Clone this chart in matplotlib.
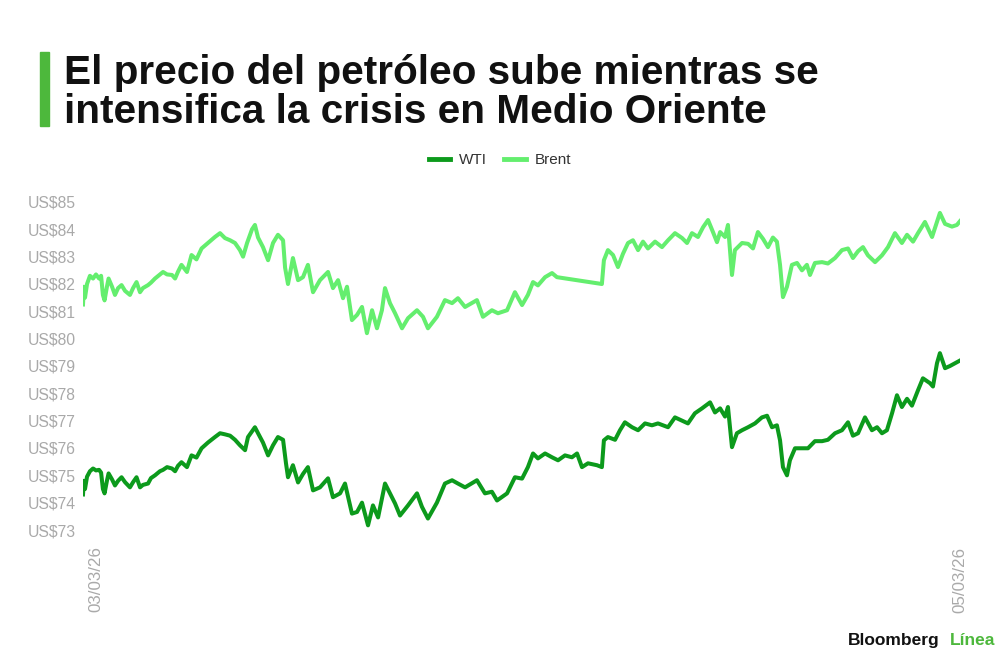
import matplotlib
matplotlib.use("Agg")
import matplotlib.pyplot as plt
from matplotlib.lines import Line2D

# ---------------- data (hours since start of 03/03/26) ----------------
brent_hours = [
    0.00, 0.05, 0.11, 0.22, 0.38, 0.55, 0.71, 0.88, 0.99, 1.09, 1.18, 1.31, 1.40, 1.59, 1.75,
    1.92, 2.11, 2.30, 2.57, 2.74, 2.93, 3.12, 3.28, 3.56, 3.72, 3.94, 4.21, 4.38, 4.60, 4.87,
    5.04, 5.20, 5.39, 5.69, 5.94, 6.21, 6.49, 6.84, 7.22, 7.50, 7.77, 8.05, 8.32, 8.59, 8.76,
    8.98, 9.25, 9.41, 9.58, 9.85, 10.13, 10.40, 10.67, 10.95, 11.06, 11.22, 11.49, 11.77, 12.04,
    12.31, 12.59, 12.97, 13.41, 13.68, 13.96, 14.23, 14.45, 14.72, 15.00, 15.27, 15.54, 15.82,
    16.09, 16.36, 16.53, 16.80, 17.08, 17.46, 17.79, 18.28, 18.61, 18.88, 19.37, 19.81, 20.20,
    20.52, 20.91, 21.56, 21.89, 22.38, 22.71, 23.21, 23.64, 24.03, 24.35, 24.63, 24.90, 25.29,
    25.67, 25.94, 28.40, 28.51, 28.73, 29.01, 29.28, 29.55, 29.83, 30.10, 30.38, 30.65, 30.92,
    31.31, 31.69, 32.02, 32.40, 32.79, 33.06, 33.33, 33.66, 33.94, 34.21, 34.48, 34.70, 34.87,
    35.14, 35.30, 35.52, 35.68, 36.07, 36.40, 36.67, 36.94, 37.22, 37.49, 37.76, 37.98, 38.15,
    38.31, 38.53, 38.80, 39.08, 39.35, 39.62, 39.79, 40.06, 40.45, 40.77, 41.16, 41.54, 41.87,
    42.14, 42.42, 42.69, 42.96, 43.35, 43.73, 44.06, 44.44, 44.82, 45.10, 45.43, 45.70, 46.08,
    46.47, 46.74, 46.90, 47.18, 47.56, 47.83, 48.00,
]
brent_price = [
    81.25, 81.90, 81.50, 82.00, 82.30, 82.20, 82.35, 82.20, 82.30, 81.60, 81.40, 81.90, 82.20, 81.90, 81.60,
    81.85, 81.96, 81.75, 81.60, 81.85, 82.07, 81.70, 81.85, 81.96, 82.05, 82.20, 82.35, 82.44, 82.35, 82.33,
    82.20, 82.45, 82.70, 82.44, 83.06, 82.90, 83.30, 83.50, 83.72, 83.86, 83.68, 83.60, 83.50, 83.24, 83.00,
    83.50, 84.00, 84.16, 83.70, 83.35, 82.87, 83.50, 83.80, 83.60, 82.60, 82.00, 82.95, 82.14, 82.25,
    82.70, 81.70, 82.14, 82.44, 81.85, 82.14, 81.48, 81.90, 80.68, 80.87, 81.16, 80.20, 81.04,
    80.38, 81.04, 81.85, 81.30, 80.93, 80.38, 80.75, 81.04, 80.80, 80.38, 80.80, 81.41, 81.30,
    81.48, 81.16, 81.41, 80.80, 81.04, 80.93, 81.04, 81.70, 81.23, 81.60, 82.07, 81.95, 82.25,
    82.40, 82.25, 82.00, 82.87, 83.24, 83.06, 82.62, 83.10, 83.50, 83.60, 83.24, 83.55, 83.30,
    83.55, 83.35, 83.60, 83.86, 83.68, 83.50, 83.86, 83.72, 84.08, 84.34, 83.90, 83.53, 83.90,
    83.72, 84.16, 82.33, 83.24, 83.50, 83.47, 83.30, 83.90, 83.65, 83.35, 83.70, 83.55, 82.70,
    81.52, 81.90, 82.70, 82.77, 82.50, 82.70, 82.33, 82.77, 82.80, 82.75, 82.95, 83.24, 83.30,
    82.95, 83.20, 83.35, 83.05, 82.80, 83.05, 83.35, 83.86, 83.50, 83.80, 83.55, 83.86, 84.27,
    83.72, 84.27, 84.60, 84.20, 84.10, 84.16, 84.30,
]

wti_hours = [
    0.00, 0.05, 0.11, 0.22, 0.38, 0.55, 0.71, 0.88, 0.99, 1.09, 1.18, 1.31, 1.40, 1.59, 1.75,
    1.92, 2.11, 2.30, 2.57, 2.74, 2.93, 3.12, 3.28, 3.56, 3.72, 3.94, 4.21, 4.38, 4.60, 4.87,
    5.04, 5.20, 5.39, 5.69, 5.94, 6.21, 6.49, 6.84, 7.22, 7.50, 7.77, 8.05, 8.32, 8.59, 8.87,
    9.03, 9.41, 9.58, 9.85, 10.13, 10.40, 10.67, 10.95, 11.11, 11.22, 11.49, 11.77, 12.04,
    12.31, 12.59, 12.97, 13.41, 13.68, 14.07, 14.34, 14.72, 15.00, 15.27, 15.60, 15.87, 16.15,
    16.53, 16.80, 17.08, 17.35, 17.79, 18.28, 18.55, 18.88, 19.37, 19.81, 20.20, 20.52, 20.91,
    21.56, 22.00, 22.38, 22.66, 23.21, 23.64, 24.03, 24.35, 24.63, 24.90, 25.29, 25.67, 26.00,
    26.38, 26.76, 27.04, 27.31, 27.64, 28.13, 28.40, 28.51, 28.73, 29.12, 29.39, 29.66, 30.05,
    30.38, 30.76, 31.14, 31.47, 32.02, 32.40, 32.79, 33.11, 33.49, 33.88, 34.32, 34.59, 34.87,
    35.14, 35.30, 35.52, 35.79, 36.07, 36.40, 36.78, 37.16, 37.44, 37.71, 37.98, 38.15, 38.31,
    38.53, 38.69, 38.97, 39.35, 39.68, 40.06, 40.45, 40.77, 41.16, 41.54, 41.87, 42.14, 42.42,
    42.80, 43.18, 43.46, 43.73, 44.00, 44.28, 44.55, 44.82, 45.10, 45.37, 45.70, 45.97, 46.36,
    46.52, 46.74, 46.90, 47.18, 47.45, 47.72, 48.00,
]
wti_price = [
    74.30, 74.80, 74.50, 74.95, 75.15, 75.25, 75.18, 75.20, 75.10, 74.50, 74.34, 74.80, 75.07, 74.85, 74.63,
    74.80, 74.93, 74.75, 74.56, 74.75, 74.93, 74.56, 74.65, 74.70, 74.90, 75.00, 75.15, 75.20, 75.30, 75.25,
    75.15, 75.35, 75.48, 75.30, 75.73, 75.65, 75.99, 76.20, 76.40, 76.54, 76.50, 76.45, 76.30, 76.10, 75.92,
    76.40, 76.76, 76.54, 76.20, 75.73, 76.10, 76.40, 76.30, 75.44, 74.93, 75.37, 74.74, 75.05,
    75.30, 74.45, 74.56, 74.89, 74.20, 74.34, 74.70, 73.60, 73.66, 74.00, 73.17, 73.90, 73.46,
    74.70, 74.34, 73.97, 73.53, 73.90, 74.34, 73.85, 73.42, 74.00, 74.70, 74.82, 74.70, 74.56,
    74.82, 74.34, 74.40, 74.08, 74.34, 74.93, 74.88, 75.30, 75.80, 75.62, 75.80, 75.66, 75.55,
    75.73, 75.66, 75.80, 75.30, 75.44, 75.37, 75.30, 76.28, 76.40, 76.30, 76.65, 76.94, 76.76,
    76.65, 76.90, 76.83, 76.90, 76.76, 77.12, 77.00, 76.90, 77.27, 77.45, 77.67, 77.30, 77.45,
    77.15, 77.50, 76.03, 76.54, 76.65, 76.76, 76.90, 77.12, 77.18, 76.76, 76.83, 76.28, 75.30,
    75.00, 75.55, 75.99, 75.99, 75.99, 76.25, 76.25, 76.30, 76.54, 76.65, 76.94, 76.45, 76.54,
    77.12, 76.65, 76.76, 76.54, 76.65, 77.27, 77.93, 77.50, 77.80, 77.55, 78.11, 78.55, 78.37,
    78.25, 79.10, 79.47, 78.92, 79.00, 79.10, 79.20,
]

series_names = ["WTI", "Brent"]
y_ticks = [73, 74, 75, 76, 77, 78, 79, 80, 81, 82, 83, 84, 85]
x_tick_hours = [0.7, 48.0]
x_tick_labels = ["03/03/26", "05/03/26"]

title_lines = ["El precio del petróleo sube mientras se",
               "intensifica la crisis en Medio Oriente"]

WTI_COLOR = "#0c9a1c"
BRENT_COLOR = "#64ee6e"
ACCENT = "#4db83c"
TICK_COLOR = "#a9a9a9"

# ---------------- figure ----------------
W, H = 1000, 660
fig = plt.figure(figsize=(W / 100, H / 100), dpi=100)
fig.patch.set_facecolor("white")

ylo, yhi = 72.7, 85.3
ax = fig.add_axes([83 / W, 1 - 538.2 / H, 877 / W, 344.4 / H])
ax.plot(wti_hours, wti_price, color=WTI_COLOR, lw=2.9, solid_joinstyle="round", label=series_names[0])
ax.plot(brent_hours, brent_price, color=BRENT_COLOR, lw=2.9, solid_joinstyle="round", label=series_names[1])
ax.set_xlim(0, 48)
ax.set_ylim(ylo, yhi)
for s in ax.spines.values():
    s.set_visible(False)
ax.set_yticks(y_ticks)
ax.set_yticklabels([f"US${v}" for v in y_ticks], fontfamily="Liberation Sans", fontsize=11.3, color=TICK_COLOR)
ax.set_xticks(x_tick_hours)
ax.set_xticklabels(x_tick_labels, rotation=90, fontfamily="Liberation Sans", fontsize=12.2, color=TICK_COLOR)
ax.tick_params(axis="both", length=0)
ax.tick_params(axis="y", pad=5)
ax.tick_params(axis="x", pad=6)
ax.set_facecolor("white")

# legend
handles = [Line2D([0], [0], color=WTI_COLOR, lw=3.5), Line2D([0], [0], color=BRENT_COLOR, lw=3.5)]
fig.legend(handles, series_names, loc="center", bbox_to_anchor=(0.5, 1 - 160 / H), ncol=2, frameon=False,
           prop={"family": "Liberation Sans", "size": 11}, handlelength=1.4, handletextpad=0.6,
           columnspacing=1.1, labelcolor="#333333")

# title with accent bar
fig.patches.append(plt.Rectangle((40 / W, 1 - 126 / H), 9 / W, 74 / H, transform=fig.transFigure,
                                 color=ACCENT, zorder=5))
for line, base in zip(title_lines, [84, 123]):
    fig.text(64 / W, 1 - base / H, line, fontfamily="Liberation Sans", fontweight="bold", fontsize=29.2,
             color="#111111", ha="left", va="baseline")

# logo
fig.text(940 / W, 1 - 645 / H, "Bloomberg", fontfamily="Liberation Sans", fontweight="bold", fontsize=12.5,
         color="#111111", ha="right", va="baseline")
fig.text(995 / W, 1 - 645 / H, "Línea", fontfamily="Liberation Sans", fontweight="bold", fontsize=12.5,
         color=ACCENT, ha="right", va="baseline")

fig.savefig("out.png", dpi=100, facecolor="white")
